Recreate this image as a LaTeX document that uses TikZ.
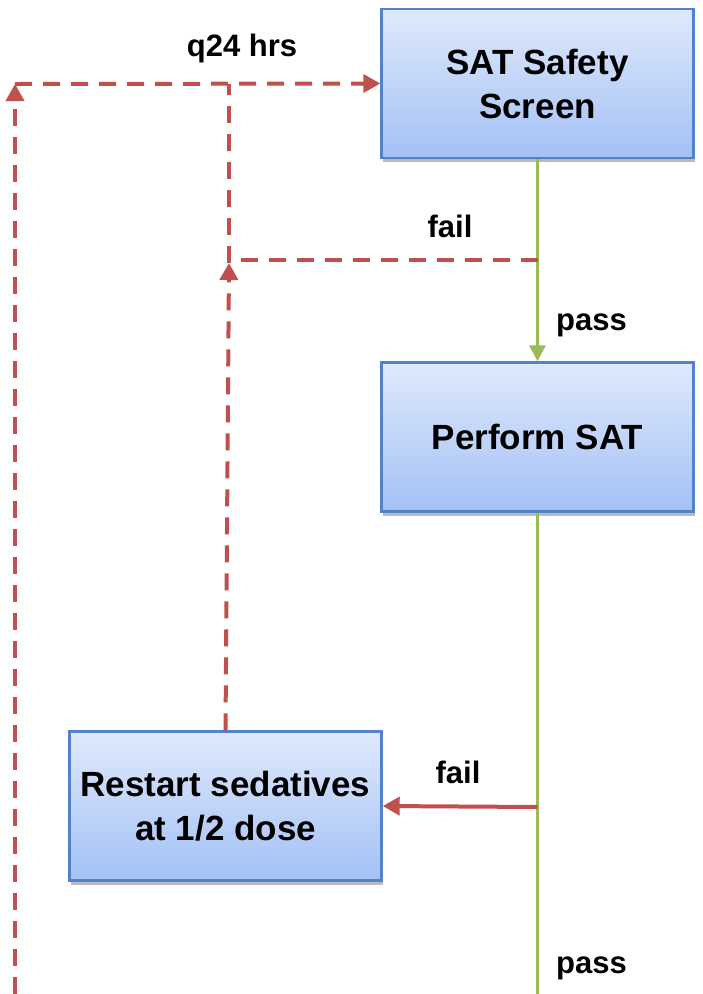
\documentclass[tikz,border=0pt]{standalone}
\usepackage{fontspec}
\setmainfont{Liberation Sans}
\usetikzlibrary{arrows.meta,shadows}
\definecolor{boxtop}{HTML}{DFE9FC}
\definecolor{boxbot}{HTML}{A3C1F5}
\definecolor{boxline}{HTML}{5183CC}
\definecolor{redline}{HTML}{C0504D}
\definecolor{greenline}{HTML}{9BBB59}
\tikzset{
  flowbox/.style={rectangle, draw=boxline, line width=2.4pt, top color=boxtop, bottom color=boxbot,
    minimum width=312pt, minimum height=149pt, align=center, inner sep=0pt,
    font=\fontsize{35}{44}\selectfont\bfseries,
    drop shadow={shadow xshift=1.5pt, shadow yshift=-4pt, opacity=0.45, fill=black!60}},
  lbl/.style={font=\fontsize{31}{36}\selectfont\bfseries, inner sep=0pt},
  reddash/.style={draw=redline, line width=4pt, dash pattern=on 17pt off 11pt},
  redsolid/.style={draw=redline, line width=4pt},
  greenln/.style={draw=greenline, line width=3.2pt},
  redtip/.style={-{Triangle[length=17pt,width=18pt]}},
  greentip/.style={-{Triangle[length=16pt,width=16pt]}}
}
\begin{document}
\begin{tikzpicture}[x=1pt,y=1pt]
\useasboundingbox (0,0) rectangle (702,-994);
% boxes
\node[flowbox] (screen) at (537.5,-83.5) {SAT Safety\\Screen};
\node[flowbox] (perform) at (537.5,-437) {Perform SAT};
\node[flowbox] (restart) at (225.5,-806) {Restart sedatives\\at 1/2 dose};
% coordinates
\coordinate (failtop) at (537.5,-260);
\coordinate (joinfail) at (229,-260);
\coordinate (upmid) at (229,-263);
\coordinate (jointop) at (229,-84);
\coordinate (leftbot) at (15,-994);
\coordinate (lefttop) at (15,-84);
\coordinate (failbot) at (537.5,-807);
\coordinate (greenbot) at (537.5,-994);
% green flow
\draw[greenln, greentip] (screen.south) -- (perform.north);
\draw[greenln] (perform.south) -- (greenbot);
% red fail to restart
\draw[redsolid, redtip] (failbot) -- (restart.east);
% red dashed loops
\draw[reddash] (failtop) -- (joinfail);
\draw[reddash, redtip] (restart.north) -- (upmid);
\draw[reddash] (upmid) -- (jointop);
\draw[reddash, redtip] (leftbot) -- (lefttop);
\draw[reddash, redtip] (lefttop) -- (screen.west);
% labels
\node[lbl] (q24) at (242,-48) {q24 hrs};
\node[lbl] (failA) at (450,-226) {fail};
\node[lbl, anchor=west] (passA) at (556,-325) {pass};
\node[lbl] (failB) at (458,-772) {fail};
\node[lbl, anchor=west] (passB) at (556,-968) {pass};
\end{tikzpicture}
\end{document}
